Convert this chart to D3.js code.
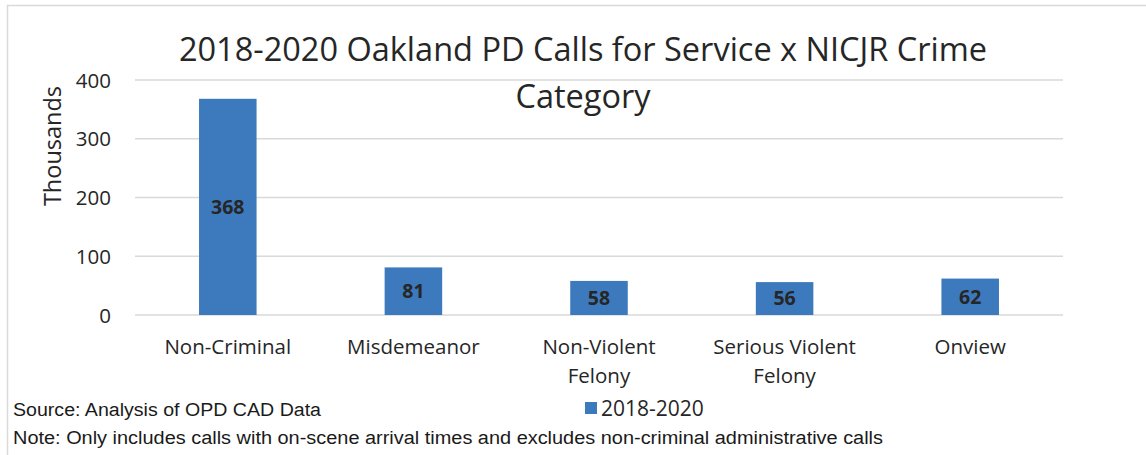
<!DOCTYPE html>
<html><head><meta charset="utf-8">
<script src="https://cdn.jsdelivr.net/npm/d3@7"></script>
<style>body{margin:0;background:#fff}svg{display:block}</style>
</head><body>
<svg id="c" width="1146" height="455"></svg>
<script>
const categories = [["Non-Criminal"],["Misdemeanor"],["Non-Violent","Felony"],["Serious Violent","Felony"],["Onview"]];
const values = [368, 81, 58, 56, 62];
const yTicks = [0, 100, 200, 300, 400];
const titleLines = ["2018-2020 Oakland PD Calls for Service x NICJR Crime", "Category"];
const seriesName = "2018-2020";
const sourceText = "Source: Analysis of OPD CAD Data";
const noteText = "Note: Only includes calls with on-scene arrival times and excludes non-criminal administrative calls";

const svg = d3.select("#c");
const font = "'Open Sans', sans-serif";
const blue = "#3d7abd";
const m = {l:135, r:1063, t:80, b:315};

// border
svg.append("path").attr("d","M7.5,455 L7.5,5.5 L1146,5.5").attr("fill","none").attr("stroke","#d9d9d9").attr("stroke-width",1.5);

const x = d3.scaleBand().domain(d3.range(values.length)).range([m.l, m.r]).paddingInner(0.69).paddingOuter(0.345);
const y = d3.scaleLinear().domain([0,400]).range([m.b, m.t]);

// gridlines
svg.append("g").selectAll("line").data(yTicks).join("line")
  .attr("x1", m.l).attr("x2", m.r).attr("y1", d=>y(d)).attr("y2", d=>y(d))
  .attr("stroke","#d9d9d9").attr("stroke-width",1.5);

// y axis labels
const yAxis = d3.axisLeft(y).tickValues(yTicks).tickSize(0).tickPadding(0);
const ya = svg.append("g").attr("transform",`translate(111,0)`).call(yAxis);
ya.select(".domain").remove();
ya.selectAll("text").attr("font-family",font).attr("font-size",20.5).attr("fill","#262626").attr("dy","0.35em");

// bars
svg.append("g").selectAll("rect").data(values).join("rect")
  .attr("x",(d,i)=>x(i)).attr("width",x.bandwidth())
  .attr("y",d=>y(d)).attr("height",d=>y(0)-y(d)).attr("fill",blue);

// value labels
svg.append("g").selectAll("text").data(values).join("text")
  .attr("x",(d,i)=>x(i)+x.bandwidth()/2).attr("y",d=>(y(d)+y(0))/2)
  .attr("dy","0.35em").attr("text-anchor","middle")
  .attr("font-family",font).attr("font-weight","bold").attr("font-size",19.5).attr("fill","#262626")
  .text(d=>d);

// x labels
const xl = svg.append("g").selectAll("text").data(categories).join("text")
  .attr("text-anchor","middle").attr("font-family",font).attr("font-size",20.5).attr("fill","#262626");
xl.each(function(lines,i){
  const t = d3.select(this);
  lines.forEach((ln,j)=>{
    t.append("tspan").attr("x", x(i)+x.bandwidth()/2).attr("y", 354 + j*29).text(ln);
  });
});

// y title
svg.append("text").attr("transform","translate(61,146) rotate(-90)")
  .attr("text-anchor","middle").attr("font-family",font).attr("font-size",23.5).attr("fill","#262626").text("Thousands");

// title
svg.append("g").selectAll("text").data(titleLines).join("text")
  .attr("x",583).attr("y",(d,i)=>61+i*47).attr("text-anchor","middle")
  .attr("font-family",font).attr("font-size",32.5).attr("fill","#262626").text(d=>d);

// legend
svg.append("rect").attr("x",585).attr("y",402).attr("width",12).attr("height",12).attr("fill",blue);
svg.append("text").attr("x",601).attr("y",416).attr("font-family",font).attr("font-size",21).attr("fill","#262626").text(seriesName);

// footer
const ffont = "'Liberation Sans Narrow', 'Liberation Sans', sans-serif";
svg.append("text").attr("x",13).attr("y",416).attr("font-family",ffont).attr("font-size",18).attr("fill","#1a1a1a")
  .attr("textLength",308).attr("lengthAdjust","spacingAndGlyphs").text(sourceText);
svg.append("text").attr("x",13).attr("y",444).attr("font-family",ffont).attr("font-size",18).attr("fill","#1a1a1a")
  .attr("textLength",870).attr("lengthAdjust","spacingAndGlyphs").text(noteText);
</script>
</body></html>
